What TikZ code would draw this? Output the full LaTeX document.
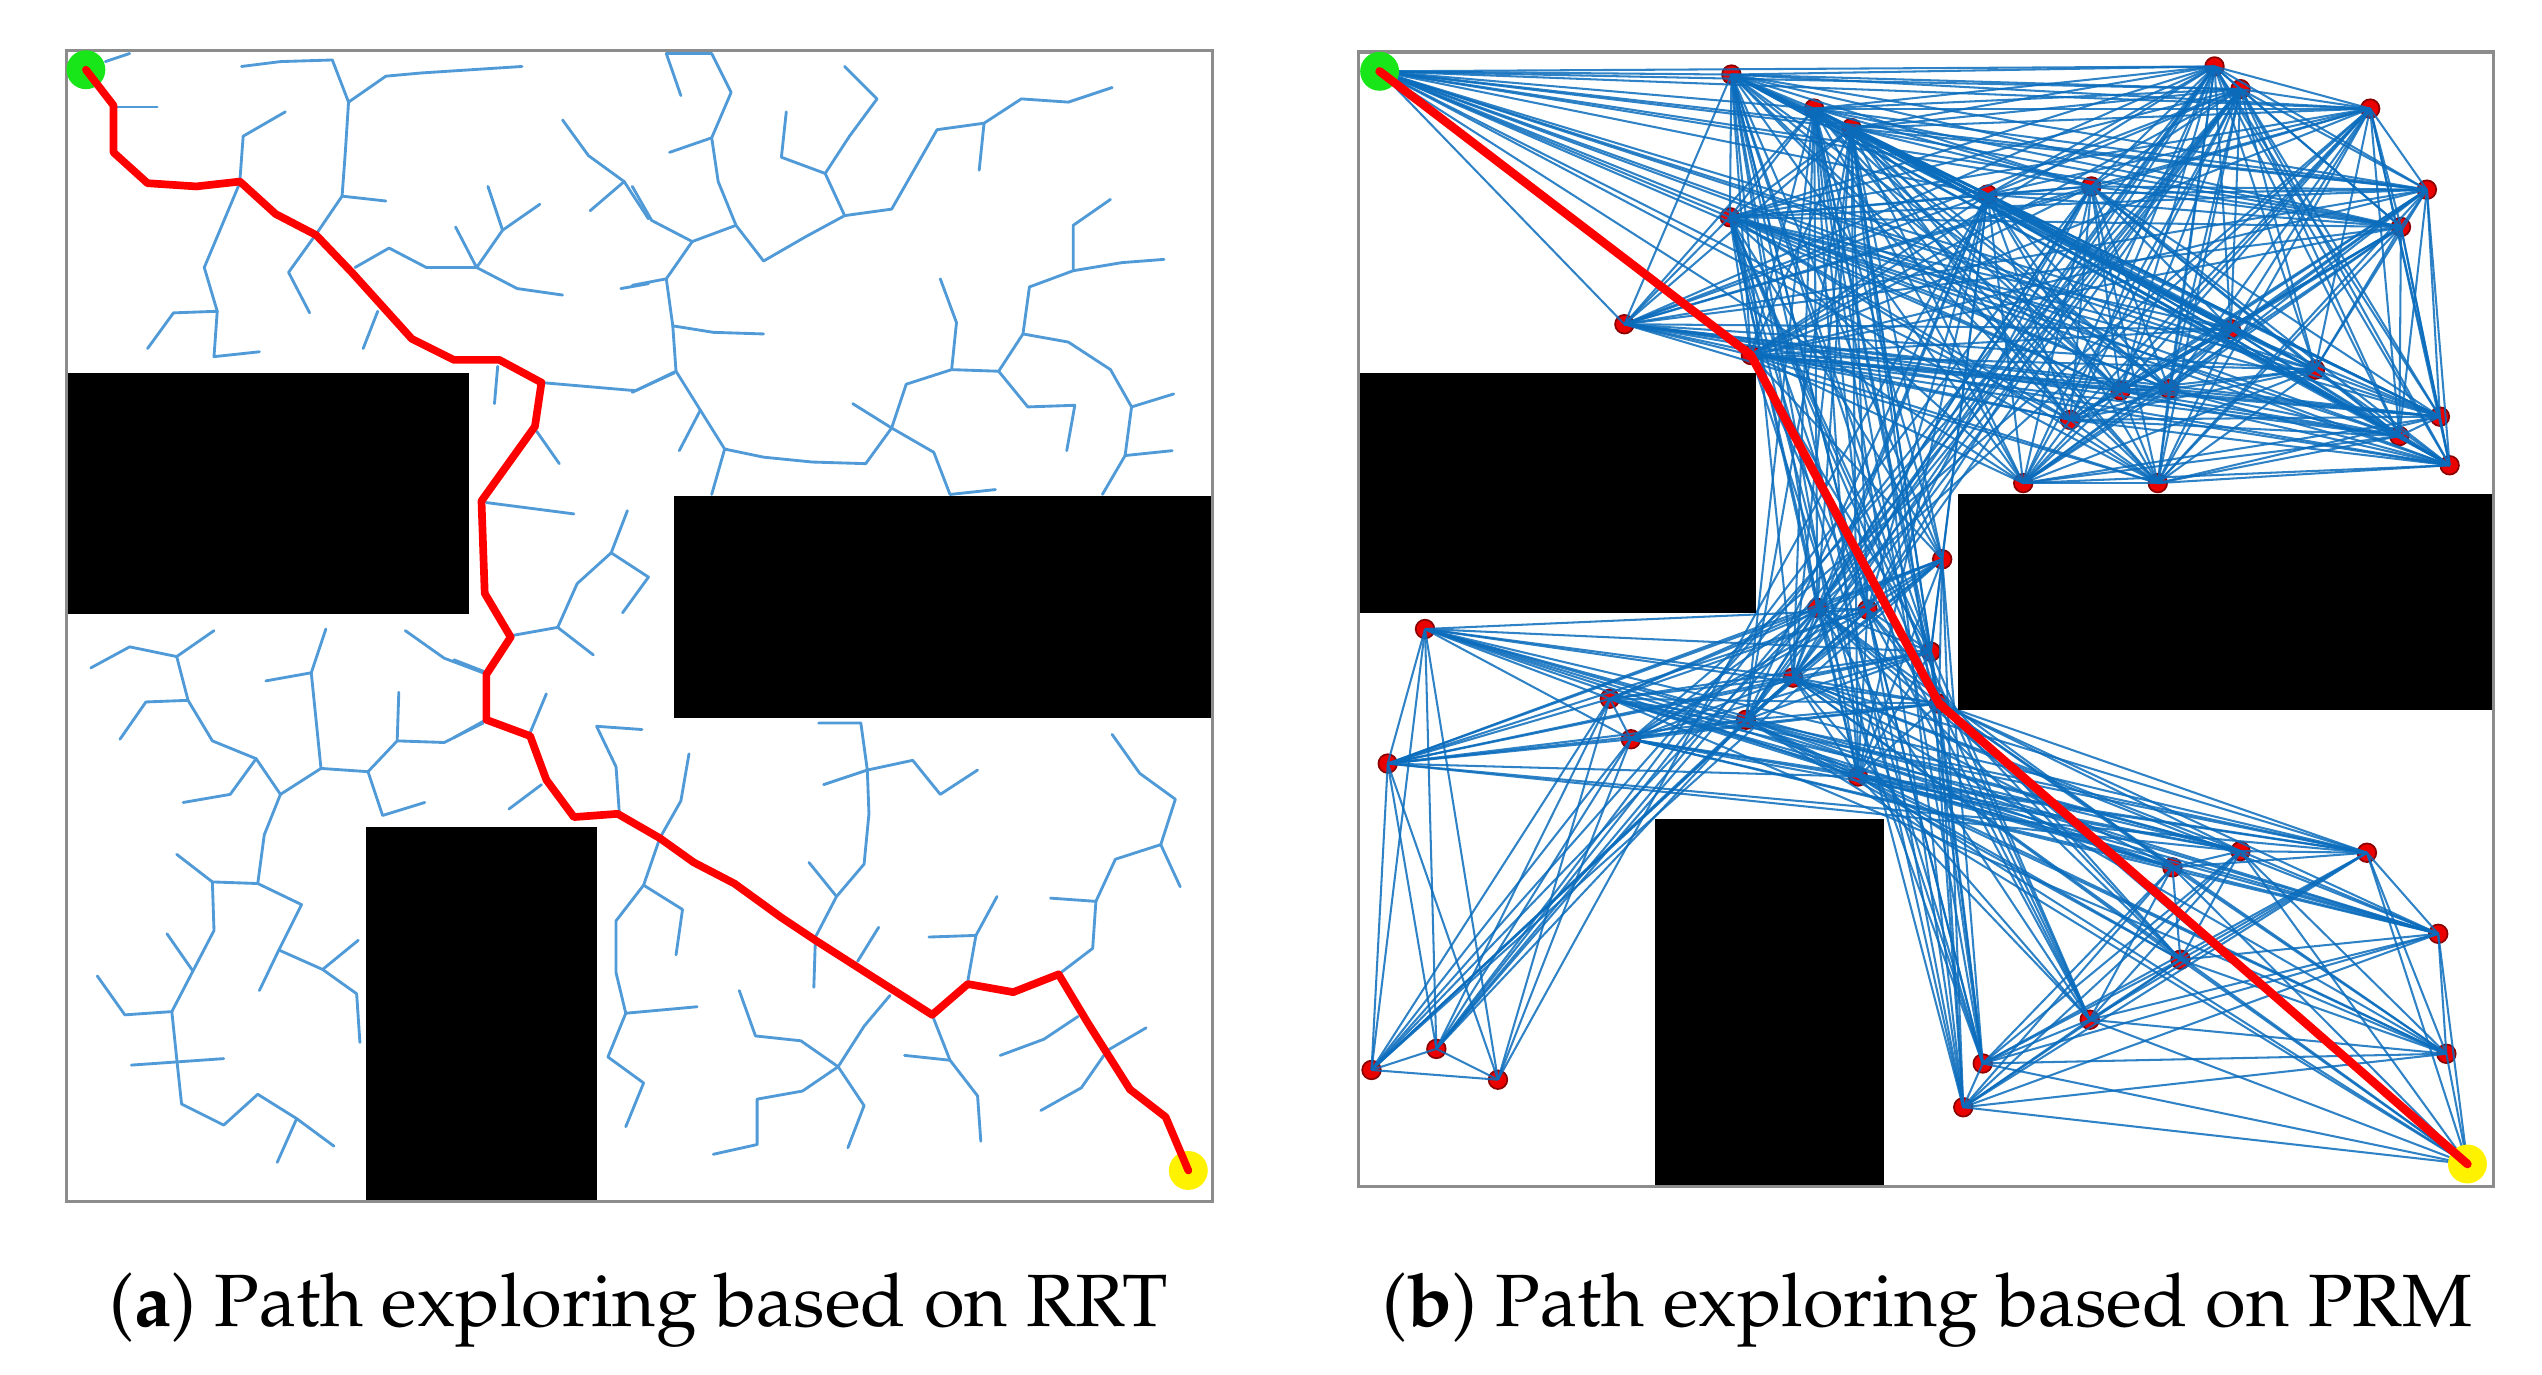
\documentclass[tikz,border=0pt]{standalone}
\usepackage[T1]{fontenc}
\usepackage{mathpazo}
\definecolor{treeblue}{RGB}{80,155,215}
\definecolor{edgeblue}{RGB}{10,108,188}
\definecolor{startgreen}{RGB}{25,230,25}
\definecolor{dotred}{RGB}{235,0,0}
\newif\iflineclear
\newcommand\rectcheck[4]{%
  \iflineclear
    \pgfmathtruncatemacro\boxhit{(min(\ux,\vx)<#3)&&(max(\ux,\vx)>#1)&&(min(\uy,\vy)<#4)&&(max(\uy,\vy)>#2)}%
    \ifnum\boxhit=1
      \pgfmathsetmacro\fa{(\vx-\ux)*(#2-\uy)-(\vy-\uy)*(#1-\ux)}%
      \pgfmathsetmacro\fb{(\vx-\ux)*(#2-\uy)-(\vy-\uy)*(#3-\ux)}%
      \pgfmathsetmacro\fc{(\vx-\ux)*(#4-\uy)-(\vy-\uy)*(#1-\ux)}%
      \pgfmathsetmacro\fd{(\vx-\ux)*(#4-\uy)-(\vy-\uy)*(#3-\ux)}%
      \pgfmathtruncatemacro\linehit{(min(\fa,\fb,\fc,\fd)<0)&&(max(\fa,\fb,\fc,\fd)>0)}%
      \ifnum\linehit=1 \lineclearfalse\fi
    \fi
  \fi}
\def\prmlist{851/44, 1068/46, 1119/67, 1142/79, 1067/134, 1002/200, 1080/219,
  1366/41, 1382/55, 1462/67, 1497/117, 1481/140, 1226/120, 1290/115, 1376/203,
  1428/228, 1505/257, 1480/269, 1511/287, 1248/298, 1331/298, 1277/259, 1308/241,
  1338/240, 1198/345, 1152/376, 1121/375, 1191/402, 1196/434, 879/388, 856/471,
  993/431, 1006/456, 1077/444, 1106/418, 1146/479, 1460/526, 1382/525, 1340/535,
  1504/576, 1345/592, 1289/629, 1509/650, 1223/656, 1211/683, 846/660, 886/647,
  924/666, 1522/718}
\begin{document}
\begin{tikzpicture}[x=0.1mm,y=-0.1mm,
  tree/.style={treeblue, line width=0.5pt, line join=round, line cap=round},
  route/.style={red, line width=1.35pt, line join=round, line cap=round},
  prmedge/.style={edgeblue, line width=0.36pt, opacity=0.85},
  wall/.style={fill=black},
  frame/.style={draw=black!45, line width=0.6pt},
  roadnode/.style={circle, fill=dotred, draw=red!55!black, line width=0.3pt, inner sep=0pt, minimum size=1.15mm},
  endpoint/.style={circle, inner sep=0pt, minimum size=2.4mm},
  caption/.style={font=\fontsize{13}{15}\selectfont}]
\useasboundingbox (0,0) rectangle (1568,848);

\draw[tree] (65,38) -- (80,33);
\draw[tree] (72,66) -- (97,66);
\draw[tree] (149,41) -- (173,38) -- (205,37) -- (215,63) -- (238,47) -- (260,45) -- (322,41);
\draw[tree] (215,63) -- (213,94) -- (211,121) -- (196,143) -- (178,168) -- (191,193);
\draw[tree] (211,121) -- (238,124);
\draw[tree] (176,69) -- (150,84) -- (148,111) -- (147,115) -- (126,165) -- (134,192) -- (132,220) -- (160,217);
\draw[tree] (134,192) -- (107,193) -- (91,215);
\draw[tree] (224,215) -- (233,192);
\draw[tree] (219,165) -- (240,153) -- (263,165) -- (294,165) -- (319,178) -- (347,182);
\draw[tree] (294,165) -- (281,140);
\draw[tree] (294,165) -- (310,142) -- (301,115);
\draw[tree] (310,142) -- (333,126);
\draw[tree] (347,74) -- (363,96) -- (385,112) -- (400,135);
\draw[tree] (385,112) -- (364,130);
\draw[tree] (383,178) -- (400,175);
\draw[tree] (307,226) -- (305,249);
\draw[tree] (334,236) -- (392,241) -- (416,230);
\draw[tree] (331,266) -- (345,286);
\draw[tree] (300,310) -- (354,317);
\draw[tree] (316,392) -- (344,387) -- (356,360) -- (377,341) -- (387,315);
\draw[tree] (377,341) -- (400,356) -- (384,378);
\draw[tree] (344,387) -- (366,404);
\draw[tree] (280,407) -- (298,414);
\draw[tree] (298,445) -- (280,455);
\draw[tree] (327,452) -- (337,428);
\draw[tree] (334,484) -- (314,499);
\draw[tree] (382,501) -- (380,473) -- (368,448) -- (396,450);
\draw[tree] (425,465) -- (420,494) -- (407,517) -- (397,546) -- (380,568) -- (380,600) -- (386,625) -- (375,652) -- (397,668) -- (386,695);
\draw[tree] (386,625) -- (430,621);
\draw[tree] (397,546) -- (421,561) -- (417,589);
\draw[tree] (411,33) -- (439,33) -- (451,57) -- (439,85) -- (443,112) -- (454,139) -- (471,161) -- (497,146) -- (521,133) -- (550,129) -- (578,80) -- (607,76) -- (630,61) -- (659,63) -- (686,54);
\draw[tree] (411,33) -- (420,59);
\draw[tree] (439,85) -- (413,94);
\draw[tree] (607,76) -- (604,105);
\draw[tree] (521,41) -- (541,61) -- (524,84) -- (509,107) -- (521,133);
\draw[tree] (509,107) -- (482,97) -- (485,69);
\draw[tree] (390,115) -- (402,136) -- (427,149) -- (454,139);
\draw[tree] (427,149) -- (411,172) -- (390,176);
\draw[tree] (411,172) -- (415,201) -- (417,229) -- (390,242);
\draw[tree] (415,201) -- (440,205) -- (471,206);
\draw[tree] (417,229) -- (432,253) -- (447,277) -- (439,305);
\draw[tree] (432,253) -- (419,278);
\draw[tree] (447,277) -- (471,282) -- (501,285) -- (534,286) -- (550,264) -- (559,237) -- (587,228) -- (616,229) -- (631,206) -- (635,177) -- (662,167) -- (692,162) -- (718,160);
\draw[tree] (662,167) -- (662,139) -- (685,123);
\draw[tree] (587,228) -- (590,199) -- (580,172);
\draw[tree] (616,229) -- (634,251) -- (663,250) -- (658,278);
\draw[tree] (631,206) -- (659,211) -- (685,228) -- (698,251) -- (694,281) -- (680,305);
\draw[tree] (698,251) -- (724,243);
\draw[tree] (694,281) -- (723,278);
\draw[tree] (550,264) -- (526,249);
\draw[tree] (550,264) -- (576,279) -- (586,305) -- (614,302);
\draw[tree] (56,412) -- (80,399) -- (109,405) -- (132,389);
\draw[tree] (109,405) -- (116,432) -- (131,457) -- (158,468) -- (173,490) -- (198,474) -- (227,476) -- (245,457) -- (274,458) -- (298,446);
\draw[tree] (116,432) -- (90,433) -- (74,456);
\draw[tree] (158,468) -- (142,490) -- (113,495);
\draw[tree] (198,474) -- (192,415) -- (201,388);
\draw[tree] (192,415) -- (164,420);
\draw[tree] (245,457) -- (246,427);
\draw[tree] (227,476) -- (236,503) -- (262,495);
\draw[tree] (173,490) -- (163,515) -- (159,545) -- (131,544) -- (109,527);
\draw[tree] (159,545) -- (186,558) -- (172,586) -- (160,611);
\draw[tree] (172,586) -- (199,598) -- (221,580);
\draw[tree] (199,598) -- (220,613) -- (222,643);
\draw[tree] (131,544) -- (132,574) -- (119,599) -- (106,624) -- (77,626) -- (60,602);
\draw[tree] (119,599) -- (103,576);
\draw[tree] (106,624) -- (109,653) -- (112,681) -- (138,694) -- (159,675) -- (183,690) -- (206,707);
\draw[tree] (81,657) -- (138,653);
\draw[tree] (183,690) -- (171,717);
\draw[tree] (250,389) -- (274,406) -- (298,415);
\draw[tree] (505,446) -- (531,446) -- (535,475) -- (536,502) -- (533,533) -- (516,553) -- (503,578) -- (502,609);
\draw[tree] (535,475) -- (563,469) -- (580,490) -- (603,475);
\draw[tree] (535,475) -- (508,484);
\draw[tree] (516,553) -- (499,532);
\draw[tree] (542,572) -- (529,593);
\draw[tree] (456,611) -- (466,639) -- (494,642) -- (517,658) -- (533,682) -- (523,708);
\draw[tree] (517,658) -- (533,633) -- (549,614);
\draw[tree] (517,658) -- (495,673) -- (467,678) -- (467,706) -- (440,712);
\draw[tree] (575,626) -- (586,654) -- (603,676) -- (605,704);
\draw[tree] (586,654) -- (558,651);
\draw[tree] (597,605) -- (602,577) -- (615,553);
\draw[tree] (602,577) -- (573,578);
\draw[tree] (653,601) -- (674,585) -- (676,556) -- (688,530) -- (716,521) -- (725,493) -- (703,477) -- (686,453);
\draw[tree] (676,556) -- (648,554);
\draw[tree] (716,521) -- (728,547);
\draw[tree] (665,627) -- (644,641) -- (617,651);
\draw[tree] (707,634) -- (683,648) -- (667,671) -- (642,685);

\fill[wall] (41,230) rectangle (289,379);
\fill[wall] (416,306) rectangle (748,443);
\fill[wall] (226,510) rectangle (368,741);
\draw[frame] (41,31) rectangle (748,741);

\node[endpoint, fill=startgreen] (rrtstart) at (53,43) {};
\node[endpoint, fill=yellow] (rrtgoal) at (733,722) {};
\draw[route] (rrtstart.center) -- (70,65) -- (70,94) -- (91,113) -- (121,115) -- (148,112) -- (170,132) -- (195,145) -- (217,168) -- (254,209) -- (280,222) -- (308,222) -- (334,236) -- (330,263) -- (297,309) -- (299,366) -- (315,393) -- (300,416) -- (300,444) -- (327,454) -- (337,481) -- (354,504) -- (381,502) -- (407,517) -- (428,532) -- (453,545) -- (482,566) -- (503,580) -- (528,596) -- (575,626) -- (597,607) -- (625,612) -- (653,601) -- (671,631) -- (697,672) -- (719,689) -- (rrtgoal.center);

\foreach \x/\y [count=\i] in \prmlist {
  \coordinate (p\i) at (\x,\y);
}
\foreach \i in {2,...,48} {
  \node[roadnode] (dot\i) at (p\i) {};
}
\foreach \ax/\ay [count=\i] in \prmlist {
  \pgfmathsetmacro\ux{\ax/100}
  \pgfmathsetmacro\uy{\ay/100}
  \foreach \bx/\by [count=\j] in \prmlist {
    \ifnum\j>\i
      \pgfmathsetmacro\vx{\bx/100}
      \pgfmathsetmacro\vy{\by/100}
      \linecleartrue
      \rectcheck{8.38}{2.30}{10.83}{3.78}
      \rectcheck{12.08}{3.05}{15.38}{4.38}
      \rectcheck{10.21}{5.05}{11.62}{7.32}
      \iflineclear \draw[prmedge] (p\i) -- (p\j); \fi
    \fi
  }
}

\fill[wall] (838,230) rectangle (1083,378);
\fill[wall] (1208,305) rectangle (1538,438);
\fill[wall] (1021,505) rectangle (1162,732);
\draw[frame] (838,32) rectangle (1538,732);

\node[endpoint, fill=startgreen] (prmstart) at (p1) {};
\node[endpoint, fill=yellow] (prmgoal) at (p49) {};
\draw[route, line width=1.5pt] (prmstart.center) -- (p7) -- (p29) -- (prmgoal.center);

\node[caption] (capa) at (394,808) {(\textbf{a}) Path exploring based on RRT};
\node[caption] (capb) at (1189,808) {(\textbf{b}) Path exploring based on PRM};
\end{tikzpicture}
\end{document}
